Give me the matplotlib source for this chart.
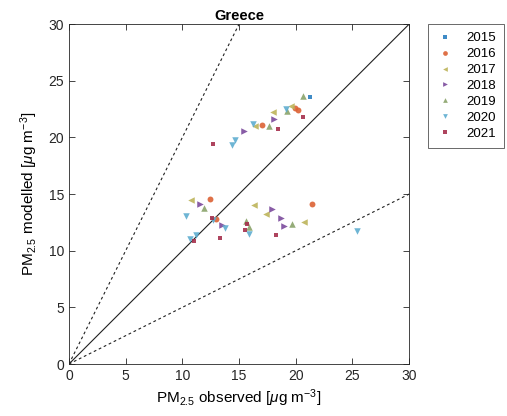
import matplotlib
matplotlib.use("Agg")
import matplotlib.pyplot as plt
from matplotlib.lines import Line2D
import numpy as np

plt.rcParams['font.family'] = ['Liberation Sans', 'DejaVu Sans']
plt.rcParams['mathtext.fontset'] = 'custom'
plt.rcParams['mathtext.rm'] = 'Liberation Sans'
plt.rcParams['mathtext.it'] = 'Liberation Sans:italic'

years = ['2015', '2016', '2017', '2018', '2019', '2020', '2021']
colors = ['#2A7FC0', '#DC6234', '#BDB45A', '#7B4A9C', '#8AA36A', '#5EADD0', '#A5304C']
markers = ['s', 'o', '<', '>', '^', 'v', 's']

obs_2015 = [21.3]
mod_2015 = [23.6]
obs_2016 = [19.9, 20.2, 17.0, 12.4, 13.0, 21.4]
mod_2016 = [22.6, 22.4, 21.1, 14.6, 12.8, 14.1]
obs_2017 = [19.6, 18.0, 16.4, 10.8, 16.3, 17.4, 20.7]
mod_2017 = [22.8, 22.2, 21.0, 14.5, 14.0, 13.2, 12.5]
obs_2018 = [18.1, 15.4, 11.6, 13.5, 17.9, 18.7, 19.0]
mod_2018 = [21.6, 20.6, 14.1, 12.3, 13.7, 12.9, 12.2]
obs_2019 = [20.6, 19.2, 17.6, 11.9, 15.6, 15.9, 19.7]
mod_2019 = [23.7, 22.3, 21.0, 13.8, 12.6, 12.1, 12.4]
obs_2020 = [19.1, 16.2, 14.6, 14.4, 10.3, 12.7, 11.2, 10.7, 13.8, 15.9, 25.4]
mod_2020 = [22.5, 21.2, 19.8, 19.3, 13.1, 12.7, 11.4, 11.0, 12.0, 11.5, 11.7]
obs_2021 = [20.6, 18.4, 12.7, 12.6, 11.0, 13.3, 15.7, 15.5, 18.3]
mod_2021 = [21.8, 20.7, 19.4, 12.9, 10.85, 11.1, 12.4, 11.8, 11.4]

obs = [obs_2015, obs_2016, obs_2017, obs_2018, obs_2019, obs_2020, obs_2021]
mod = [mod_2015, mod_2016, mod_2017, mod_2018, mod_2019, mod_2020, mod_2021]
sizes = {'s': 12, 'o': 18, '<': 22, '>': 22, '^': 22, 'v': 22}

fig = plt.figure(figsize=(5.07, 4.16), dpi=100)
ax = fig.add_axes([0.136, 0.125, 0.671, 0.817])

lim = [0, 30]
ax.plot(lim, lim, color='#202020', lw=0.8, zorder=1)
ax.plot([0, 15], [0, 30], color='#202020', lw=0.8, ls=(0, (2.5, 2.5)), zorder=1)
ax.plot([0, 30], [0, 15], color='#202020', lw=0.8, ls=(0, (2.5, 2.5)), zorder=1)

for y, c, m, xo, yo in zip(years, colors, markers, obs, mod):
    ax.scatter(xo, yo, s=sizes[m], marker=m, color=c, alpha=0.9, linewidths=0, zorder=3)

ax.set_xlim(0, 30)
ax.set_ylim(0, 30)
ax.set_xticks(np.arange(0, 31, 5))
ax.set_yticks(np.arange(0, 31, 5))
ax.tick_params(direction='in', top=True, right=True, labelsize=10, length=4, width=0.6, colors='#262626')
for s in ax.spines.values():
    s.set_linewidth(0.6)
    s.set_color('#262626')

ax.set_title('Greece', fontsize=10.5, fontweight='bold', pad=3)
ax.set_xlabel(r'PM$_{2.5}$ observed [$\mu$g m$^{-3}$]', fontsize=11, labelpad=3)
ax.set_ylabel(r'PM$_{2.5}$ modelled [$\mu$g m$^{-3}$]', fontsize=11, labelpad=6)

handles = [Line2D([], [], ls='none', marker=m, color=c, alpha=0.9,
                  markersize=(2.6 if m == 's' else 3.4), markeredgewidth=0)
           for c, m in zip(colors, markers)]
leg = ax.legend(handles, years, loc='upper left', bbox_to_anchor=(1.055, 1.0), borderaxespad=0,
                fontsize=9.5, frameon=True, fancybox=False, edgecolor='#262626',
                handletextpad=0.9, borderpad=0.6, labelspacing=0.28, handlelength=1.4)
leg.get_frame().set_linewidth(0.6)

fig.savefig('out.png', dpi=100)
